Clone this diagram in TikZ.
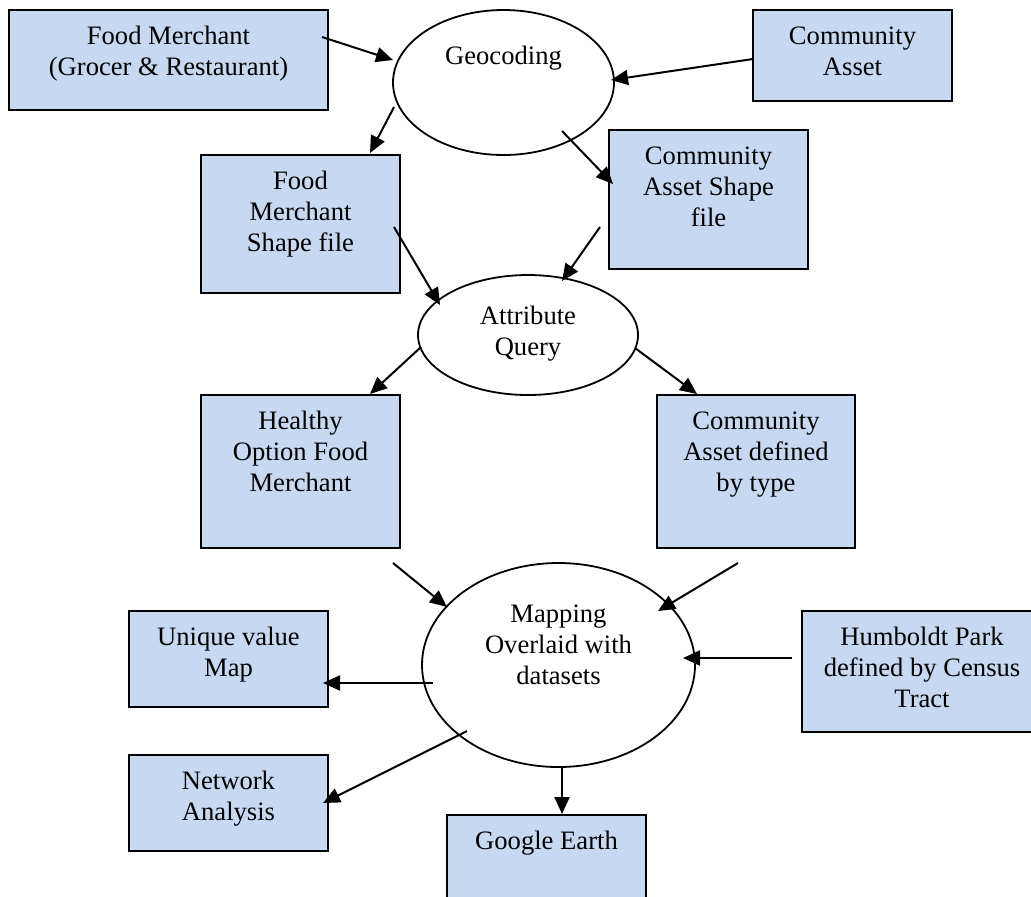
\documentclass[tikz,border=0pt]{standalone}
\usepackage{fontspec}
\setmainfont{Liberation Serif}
\usetikzlibrary{arrows.meta,shapes.geometric}
\definecolor{boxblue}{HTML}{C6D9F1}
\newcommand{\btext}[4]{\parbox[t][#2][t]{#1}{\centering\vspace*{#3}\strut #4}}
\tikzset{
  txtfont/.style={font=\fontsize{13.3}{15.5}\selectfont},
  blockbox/.style={draw=black, line width=1pt, fill=boxblue, rectangle, inner sep=0pt, outer sep=0pt, anchor=north west, txtfont},
  oval/.style={draw=black, line width=0.9pt, fill=white, ellipse, inner sep=0pt, txtfont},
  flow/.style={draw=black, line width=1pt, -{Triangle[length=8.5pt,width=7.5pt]}}
}
\begin{document}
\begin{tikzpicture}[x=0.5pt,y=-0.5pt]
\useasboundingbox (0,0) rectangle (1031,896);
\fill[white] (0,0) rectangle (1031,896);
% boxes
\node[blockbox] (fm) at (9,10) {\btext{159.5pt}{50pt}{6.5pt}{Food Merchant\\(Grocer \& Restaurant)}};
\node[blockbox] (ca) at (753,10) {\btext{99.5pt}{45.5pt}{6.5pt}{Community\\Asset}};
\node[blockbox] (fms) at (201,155) {\btext{99.5pt}{69pt}{6.5pt}{Food\\Merchant\\Shape file}};
\node[blockbox] (cas) at (609,130) {\btext{99.5pt}{69.5pt}{6.5pt}{Community\\Asset Shape\\file}};
\node[blockbox] (hofm) at (201,395) {\btext{99.5pt}{76.5pt}{6.5pt}{Healthy\\Option Food\\Merchant}};
\node[blockbox] (cadt) at (657,395) {\btext{99pt}{76.5pt}{6.5pt}{Community\\Asset defined\\by type}};
\node[blockbox] (uvm) at (129,611) {\btext{99.5pt}{48pt}{6.5pt}{Unique value\\Map}};
\node[blockbox] (na) at (129,755) {\btext{99.5pt}{48pt}{6.5pt}{Network\\Analysis}};
\node[blockbox] (ge) at (447,815) {\btext{99.5pt}{50pt}{6.5pt}{Google Earth}};
\node[blockbox] (hp) at (802,611) {\btext{120pt}{60.5pt}{6.5pt}{Humboldt Park\\defined by Census\\Tract}};
% ellipses
\node[oval, minimum width=110.5pt, minimum height=72.5pt] (geo) at (503.5,82.5) {\btext{65pt}{45pt}{2.4pt}{Geocoding}};
\node[oval, minimum width=110pt, minimum height=60pt] (aq) at (528,335) {\btext{65pt}{40pt}{3.65pt}{Attribute\\Query}};
\node[oval, minimum width=136.5pt, minimum height=102pt] (map) at (558.5,665) {\btext{90pt}{70pt}{2.65pt}{Mapping\\Overlaid with\\datasets}};
% connector end points
\coordinate (a1s) at (322,37);  \coordinate (a1e) at (393,60);
\coordinate (a2s) at (753,59);  \coordinate (a2e) at (611,80);
\coordinate (a3s) at (394,107); \coordinate (a3e) at (370,153);
\coordinate (a4s) at (562,131); \coordinate (a4e) at (613,184);
\coordinate (a5s) at (394,227); \coordinate (a5e) at (440,305);
\coordinate (a6s) at (600,227); \coordinate (a6e) at (562,281);
\coordinate (a7s) at (421,347); \coordinate (a7e) at (370,394);
\coordinate (a8s) at (635,348); \coordinate (a8e) at (697,394);
\coordinate (a9s) at (393,563); \coordinate (a9e) at (447,607);
\coordinate (a10s) at (738,563); \coordinate (a10e) at (658,611);
\coordinate (a11s) at (792,658); \coordinate (a11e) at (683,658);
\coordinate (a12s) at (433,683); \coordinate (a12e) at (323,683);
\coordinate (a13s) at (467,731); \coordinate (a13e) at (323,803);
\coordinate (a14s) at (562,767); \coordinate (a14e) at (562,814);
% connectors
\draw[flow] (a1s) -- (a1e);
\draw[flow] (a2s) -- (a2e);
\draw[flow] (a3s) -- (a3e);
\draw[flow] (a4s) -- (a4e);
\draw[flow] (a5s) -- (a5e);
\draw[flow] (a6s) -- (a6e);
\draw[flow] (a7s) -- (a7e);
\draw[flow] (a8s) -- (a8e);
\draw[flow] (a9s) -- (a9e);
\draw[flow] (a10s) -- (a10e);
\draw[flow] (a11s) -- (a11e);
\draw[flow] (a12s) -- (a12e);
\draw[flow] (a13s) -- (a13e);
\draw[flow] (a14s) -- (a14e);
\end{tikzpicture}
\end{document}
